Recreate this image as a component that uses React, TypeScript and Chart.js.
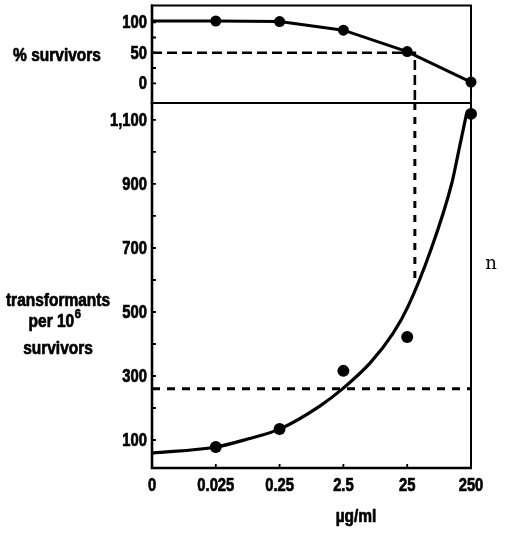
import React, { useEffect, useRef } from 'react';
import { Chart, registerables } from 'chart.js';

Chart.register(...registerables);

// Dose categories (µg/ml), placed at evenly spaced positions 0..5
const doseLabels = ['0', '0.025', '0.25', '2.5', '25', '250'];
const doseIndex = [0, 1, 2, 3, 4, 5];

// % survivors; the line starts at dose 0, markers from 0.025 on
const survivorPct = [102, 102, 101, 87, 52, 2];
const survivorMarked = [false, true, true, true, true, true];

// Transformants per 10^6 survivors, measured points
const transformantDose = [1, 2, 3, 4, 5];
const transformantCounts = [78, 134, 316, 422, 1119];

// Fitted transformant curve, read along its course
const fitDose = [0, 1, 1.5, 2, 2.63, 2.98, 3.42, 3.78, 4.01, 4.36, 4.7, 4.81, 4.93];
const fitCounts = [59, 78, 103, 134, 206, 259, 341, 434, 516, 688, 903, 1006, 1119];

// Guide lines
const halfSurvival = 50;
const halfSurvivalDose = 4.12;
const halfSurvivalTransformants = 591;
const baselineTransformants = 260;

// Axis extents and ticks
const survivorRange = [-32.3, 127.4];
const survivorTicks = [0, 25, 50, 75, 100];
const survivorTickLabels = [0, 50, 100];
const transformantRange = [12.5, 1153];
const transformantTicks = [100, 200, 300, 400, 500, 600, 700, 800, 900, 1000, 1100];
const transformantTickLabels = [100, 300, 500, 700, 900, 1100];

const W = 509;
const H = 535;
const SANS = '"Liberation Sans", Arial, sans-serif';
const TICK_FONT = `bold 18px ${SANS}`;
const TITLE_FONT = `bold 18px ${SANS}`;
const TICK_SQUEEZE = 0.82;
const TITLE_SQUEEZE = 0.86;

type TextItem = {
  text: string;
  x: number;
  y: number;
  font?: string;
  squeeze?: number;
  sup?: string;
  heavy?: boolean;
};

// draws horizontally condensed, slightly heavier text, like the narrow bold lettering
function squeezedText(
  ctx: CanvasRenderingContext2D,
  text: string,
  x: number,
  y: number,
  align: CanvasTextAlign,
  baseline: CanvasTextBaseline,
  sx: number,
  heavy = true,
) {
  ctx.save();
  ctx.translate(x, y);
  ctx.scale(sx, 1);
  ctx.textAlign = align;
  ctx.textBaseline = baseline;
  ctx.fillText(text, 0, 0);
  if (heavy) {
    ctx.lineWidth = 0.7;
    ctx.lineJoin = 'round';
    ctx.strokeText(text, 0, 0);
  }
  ctx.restore();
}

function panelPlugin(
  id: string,
  yLabels: { values: number[]; format: (v: number) => string },
  texts: TextItem[],
  withXAxis: boolean,
) {
  return {
    id,
    afterDraw(chart: any) {
      const { ctx, chartArea: a } = chart;
      ctx.save();
      ctx.strokeStyle = '#000';
      ctx.fillStyle = '#000';
      ctx.lineWidth = 2;
      ctx.strokeRect(a.left, a.top, a.right - a.left, a.bottom - a.top);
      ctx.lineWidth = 2.6;
      ctx.beginPath();
      ctx.moveTo(a.left, a.top - 1);
      ctx.lineTo(a.left, a.bottom + 1);
      if (withXAxis) {
        ctx.moveTo(a.left - 1, a.bottom);
        ctx.lineTo(a.right + 1, a.bottom);
      }
      ctx.stroke();

      // short inward tick marks
      const ys = chart.scales.y;
      const xs = chart.scales.x;
      ctx.lineWidth = 1.8;
      ctx.beginPath();
      ys.ticks.forEach((t: any) => {
        const py = ys.getPixelForValue(t.value);
        ctx.moveTo(a.left, py);
        ctx.lineTo(a.left + 4, py);
      });
      if (withXAxis) {
        xs.ticks.forEach((t: any) => {
          if (t.value <= 0 || t.value >= 5) return;
          const px = xs.getPixelForValue(t.value);
          ctx.moveTo(px, a.bottom);
          ctx.lineTo(px, a.bottom - 4);
        });
      }
      ctx.stroke();

      // tick labels
      ctx.font = TICK_FONT;
      yLabels.values.forEach((v) => {
        const py = ys.getPixelForValue(v);
        squeezedText(ctx, yLabels.format(v), a.left - 5, py + 1, 'right', 'middle', TICK_SQUEEZE);
      });
      if (withXAxis) {
        xs.ticks.forEach((t: any) => {
          const px = xs.getPixelForValue(t.value);
          squeezedText(ctx, doseLabels[t.value], px, a.bottom + 23, 'center', 'alphabetic', TICK_SQUEEZE);
        });
      }

      // titles
      texts.forEach((t) => {
        const sx = t.squeeze ?? TITLE_SQUEEZE;
        const heavy = t.heavy ?? true;
        const font = t.font || TITLE_FONT;
        const supFont = `bold 13px ${SANS}`;
        ctx.font = font;
        const mainW = ctx.measureText(t.text).width * sx;
        let supW = 0;
        if (t.sup) {
          ctx.font = supFont;
          supW = ctx.measureText(t.sup).width * sx + 1;
        }
        const left = t.x - (mainW + supW) / 2;
        ctx.font = font;
        squeezedText(ctx, t.text, left, t.y, 'left', 'alphabetic', sx, heavy);
        if (t.sup) {
          ctx.font = supFont;
          squeezedText(ctx, t.sup, left + mainW + 0.5, t.y - 9, 'left', 'alphabetic', sx, heavy);
        }
      });
      ctx.restore();
    },
  };
}

const baseOptions = {
  responsive: false,
  animation: false as const,
  devicePixelRatio: 1,
  events: [] as any[],
  plugins: { legend: { display: false }, tooltip: { enabled: false } },
};

export default function App() {
  const topRef = useRef<HTMLCanvasElement>(null);
  const botRef = useRef<HTMLCanvasElement>(null);

  useEffect(() => {
    const top = new Chart(topRef.current!, {
      type: 'line',
      data: {
        datasets: [
          {
            data: doseIndex.map((x, i) => ({ x, y: survivorPct[i] })),
            borderColor: '#000',
            borderWidth: 3,
            pointBackgroundColor: '#000',
            pointBorderWidth: 0,
            pointRadius: survivorMarked.map((m) => (m ? 5.5 : 0)),
            tension: 0,
            clip: false as any,
          },
          {
            data: [
              { x: 0, y: halfSurvival },
              { x: halfSurvivalDose, y: halfSurvival },
              { x: halfSurvivalDose, y: survivorRange[0] },
            ],
            borderColor: '#000',
            borderWidth: 2.6,
            borderDash: [10, 5],
            pointRadius: 0,
            tension: 0,
          },
        ],
      },
      options: {
        ...baseOptions,
        layout: { padding: { top: 4, right: 38, bottom: H - 103, left: 0 } },
        scales: {
          x: { type: 'linear', min: 0, max: 5, display: false },
          y: {
            type: 'linear',
            min: survivorRange[0],
            max: survivorRange[1],
            grid: { display: false, drawTicks: false },
            border: { display: false },
            ticks: { display: false },
            afterBuildTicks: (s: any) => {
              s.ticks = survivorTicks.map((v) => ({ value: v }));
            },
            afterFit: (s: any) => {
              s.width = 152;
            },
          },
        },
      },
      plugins: [
        panelPlugin(
          'topPanel',
          { values: survivorTickLabels, format: (v) => String(v) },
          [{ text: '% survivors', x: 57, y: 61 }],
          false,
        ),
      ],
    } as any);

    const bottom = new Chart(botRef.current!, {
      type: 'line',
      data: {
        datasets: [
          {
            data: fitDose.map((x, i) => ({ x, y: fitCounts[i] })),
            borderColor: '#000',
            borderWidth: 3.2,
            pointRadius: 0,
            cubicInterpolationMode: 'monotone',
            clip: false as any,
          },
          {
            data: transformantDose.map((x, i) => ({ x, y: transformantCounts[i] })),
            showLine: false,
            pointBackgroundColor: '#000',
            pointBorderWidth: 0,
            pointRadius: 6,
            clip: false as any,
          },
          {
            data: [
              { x: 0, y: baselineTransformants },
              { x: 5, y: baselineTransformants },
            ],
            borderColor: '#000',
            borderWidth: 3,
            borderDash: [8, 7],
            pointRadius: 0,
          },
          {
            data: [
              { x: halfSurvivalDose, y: transformantRange[1] },
              { x: halfSurvivalDose, y: halfSurvivalTransformants },
            ],
            borderColor: '#000',
            borderWidth: 3,
            borderDash: [7, 7],
            pointRadius: 0,
          },
        ],
      },
      options: {
        ...baseOptions,
        layout: { padding: { top: 103, right: 38, bottom: 0, left: 0 } },
        scales: {
          x: {
            type: 'linear',
            min: 0,
            max: 5,
            grid: { display: false, drawTicks: false },
            border: { display: false },
            ticks: { display: false },
            afterBuildTicks: (s: any) => {
              s.ticks = doseIndex.map((v) => ({ value: v }));
            },
            afterFit: (s: any) => {
              s.height = H - 468;
            },
          },
          y: {
            type: 'linear',
            min: transformantRange[0],
            max: transformantRange[1],
            grid: { display: false, drawTicks: false },
            border: { display: false },
            ticks: { display: false },
            afterBuildTicks: (s: any) => {
              s.ticks = transformantTicks.map((v) => ({ value: v }));
            },
            afterFit: (s: any) => {
              s.width = 152;
            },
          },
        },
      },
      plugins: [
        panelPlugin(
          'bottomPanel',
          { values: transformantTickLabels, format: (v) => v.toLocaleString('en-US') },
          [
            { text: 'transformants', x: 58, y: 306 },
            { text: 'per 10', x: 55, y: 327, sup: '6' },
            { text: 'survivors', x: 58, y: 354 },
            { text: 'µg/ml', x: 356, y: 522 },
            { text: 'n', x: 491, y: 269, font: '18px "DejaVu Serif", serif', squeeze: 1, heavy: false },
          ],
          true,
        ),
      ],
    } as any);

    return () => {
      top.destroy();
      bottom.destroy();
    };
  }, []);

  const canvasStyle: React.CSSProperties = {
    position: 'absolute',
    left: 0,
    top: 0,
    width: W,
    height: H,
  };

  return (
    <div style={{ position: 'fixed', left: 0, top: 0, width: W, height: H, background: '#fff' }}>
      <canvas ref={botRef} width={W} height={H} style={canvasStyle} />
      <canvas ref={topRef} width={W} height={H} style={canvasStyle} />
    </div>
  );
}
